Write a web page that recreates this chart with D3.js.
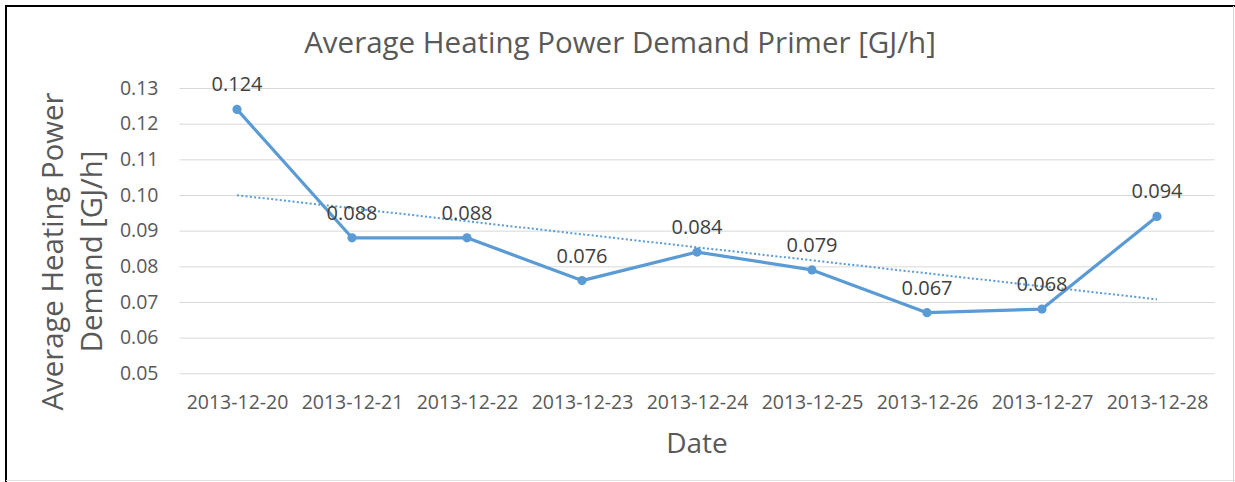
<!DOCTYPE html>
<html>
<head>
<meta charset="utf-8">
<script src="https://cdn.jsdelivr.net/npm/d3@7"></script>
<style>
	body { margin: 0; background: #fff; }
	text { font-family: "Open Sans", sans-serif; }
</style>
</head>
<body>
<div id="chart"></div>
<script>
// chart data
var dates = ["2013-12-20", "2013-12-21", "2013-12-22", "2013-12-23", "2013-12-24", "2013-12-25", "2013-12-26", "2013-12-27", "2013-12-28"];
var demand = [0.124, 0.088, 0.088, 0.076, 0.084, 0.079, 0.067, 0.068, 0.094];
var yTicks = [0.05, 0.06, 0.07, 0.08, 0.09, 0.10, 0.11, 0.12, 0.13];

var title = "Average Heating Power Demand Primer [GJ/h]";
var yTitle = ["Average Heating Power", "Demand [GJ/h]"];
var xTitle = "Date";

var width = 1235, height = 482;
var margin = { top: 88, right: 20.5, bottom: 108.7, left: 179.5 };
var blue = "#5B9BD5";

var svg = d3.select("#chart").append("svg")
	.attr("width", width)
	.attr("height", height);

// frame
svg.append("line").attr("x1", 5).attr("x2", width).attr("y1", 6).attr("y2", 6).attr("stroke", "#000").attr("stroke-width", 2);
svg.append("line").attr("x1", 6).attr("x2", 6).attr("y1", 5).attr("y2", height).attr("stroke", "#000").attr("stroke-width", 2);
svg.append("line").attr("x1", width - 1.5).attr("x2", width - 1.5).attr("y1", 6).attr("y2", height).attr("stroke", "#d4d4d4").attr("stroke-width", 1);
svg.append("line").attr("x1", 6).attr("x2", width).attr("y1", height - 1.5).attr("y2", height - 1.5).attr("stroke", "#e2e2e2").attr("stroke-width", 1);

var w = width - margin.left - margin.right;
var h = height - margin.top - margin.bottom;

var g = svg.append("g").attr("transform", "translate(" + margin.left + "," + margin.top + ")");

var x = d3.scalePoint().domain(dates).range([0, w]).padding(0.5);
var y = d3.scaleLinear().domain([0.05, 0.13]).range([h, 0]);

// y axis + gridlines
var yAxis = g.append("g")
	.call(d3.axisLeft(y).tickValues(yTicks).tickFormat(d3.format(".2f")).tickSize(-w).tickPadding(21));
yAxis.select(".domain").remove();
yAxis.selectAll("line").attr("stroke", "#d9d9d9");
yAxis.selectAll("text").attr("fill", "#595959").style("font-size", "19.5px");

// x axis
var xAxis = g.append("g")
	.attr("transform", "translate(0," + h + ")")
	.call(d3.axisBottom(x).tickSize(0).tickPadding(22));
xAxis.select(".domain").remove();
xAxis.selectAll("text").attr("fill", "#595959").style("font-size", "19.5px");

// linear trendline (least squares)
var n = demand.length;
var mx = d3.mean(demand, (d, i) => i), my = d3.mean(demand);
var slope = d3.sum(demand, (d, i) => (i - mx) * (d - my)) / d3.sum(demand, (d, i) => (i - mx) * (i - mx));
var trend = function(i){ return my + slope * (i - mx); };

g.append("line")
	.attr("x1", x(dates[0])).attr("y1", y(trend(0)))
	.attr("x2", x(dates[n - 1])).attr("y2", y(trend(n - 1)))
	.attr("stroke", blue)
	.attr("stroke-width", 2)
	.attr("stroke-dasharray", "2,2.3");

// series line
var line = d3.line().x((d, i) => x(dates[i])).y(d => y(d));
g.append("path")
	.datum(demand)
	.attr("d", line)
	.attr("fill", "none")
	.attr("stroke", blue)
	.attr("stroke-width", 3.2)
	.attr("stroke-linejoin", "round");

g.selectAll(".dot")
	.data(demand)
	.enter().append("circle")
	.attr("class", "dot")
	.attr("cx", (d, i) => x(dates[i]))
	.attr("cy", d => y(d))
	.attr("r", 4.6)
	.attr("fill", blue);

// data labels
g.selectAll(".label")
	.data(demand)
	.enter().append("text")
	.attr("class", "label")
	.attr("x", (d, i) => x(dates[i]))
	.attr("y", d => y(d) - 18)
	.attr("text-anchor", "middle")
	.attr("fill", "#404040")
	.style("font-size", "20px")
	.text(d => d3.format(".3f")(d));

// titles
svg.append("text")
	.attr("x", 620).attr("y", 53)
	.attr("text-anchor", "middle")
	.attr("fill", "#595959")
	.style("font-size", "29.5px")
	.text(title);

svg.selectAll(".ytitle")
	.data(yTitle)
	.enter().append("text")
	.attr("class", "ytitle")
	.attr("transform", (d, i) => "translate(" + (63 + i * 39) + ",251.5) rotate(-90)")
	.attr("text-anchor", "middle")
	.attr("fill", "#595959")
	.style("font-size", "29.3px")
	.text(d => d);

svg.append("text")
	.attr("x", margin.left + w / 2).attr("y", 453)
	.attr("text-anchor", "middle")
	.attr("fill", "#595959")
	.style("font-size", "28px")
	.text(xTitle);
</script>
</body>
</html>
